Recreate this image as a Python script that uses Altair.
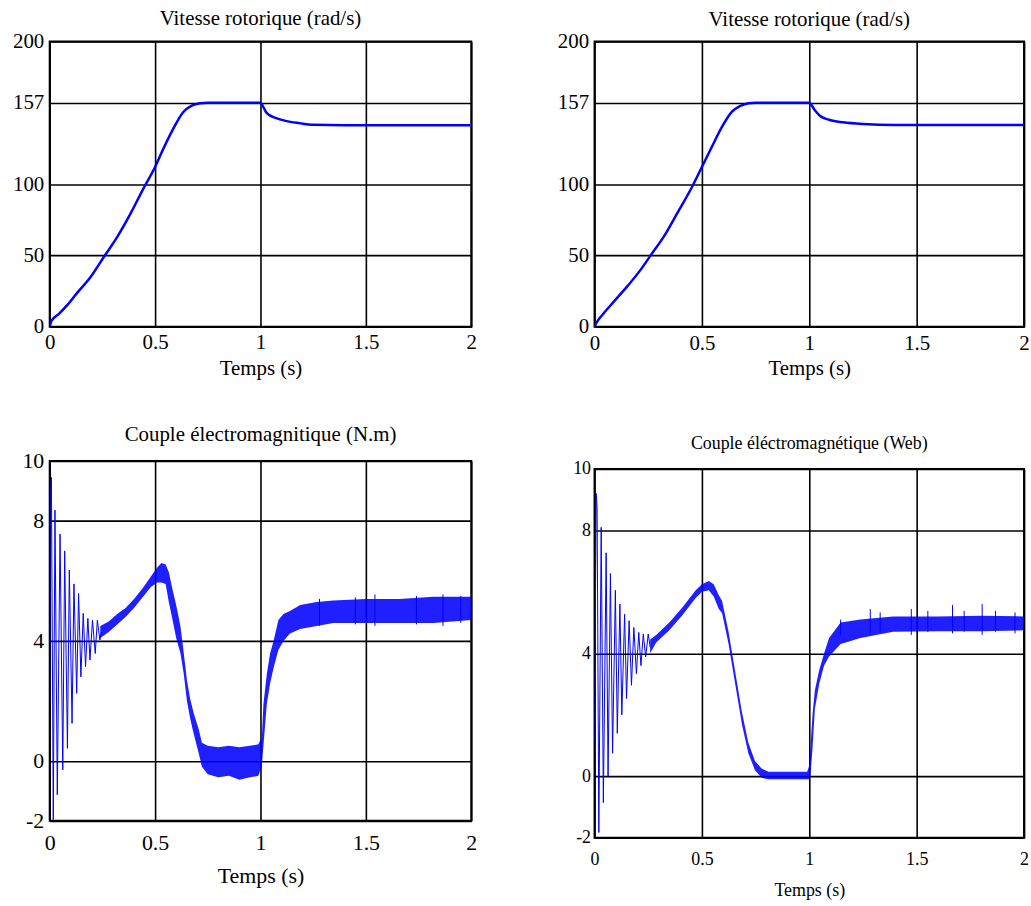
import altair as alt
import pandas as pd

BLUE = "#0000ff"
FONT = "Liberation Serif"

X_TICKS = [0, 0.5, 1, 1.5, 2]
SPEED_TICKS = [0, 50, 100, 157, 200]
TORQUE_TICKS = [-2, 0, 4, 8, 10]

# ---- Vitesse rotorique, left panel ----
speed1_t = [0, 0.008, 0.044, 0.083, 0.13, 0.194, 0.256, 0.319, 0.382, 0.445, 0.5, 0.54,
            0.587, 0.634, 0.674, 0.713, 0.75, 1.0, 1.015, 1.03, 1.075, 1.12, 1.185, 1.25, 1.4, 2.0]
speed1_v = [0, 4, 9, 15.1, 23.7, 34.8, 48.7, 62.6, 78.9, 97, 112, 125,
            139, 150.5, 155, 156.6, 157, 157, 153.5, 149.7, 146.2, 144.3, 142.7, 141.5, 141.3, 141.3]

# ---- Vitesse rotorique, right panel ----
speed2_t = [0, 0.01, 0.039, 0.093, 0.154, 0.216, 0.262, 0.324, 0.386, 0.447, 0.501, 0.547,
            0.594, 0.64, 0.678, 0.717, 0.75, 1.0, 1.025, 1.049, 1.095, 1.157, 1.249, 1.4, 2.0]
speed2_v = [0, 3, 8.8, 18.1, 28.6, 40.2, 50.2, 63.5, 79.8, 96, 112.3, 126.3,
            140.2, 150.7, 154.7, 156.7, 157, 157, 151.9, 147.9, 144.9, 143.3, 142.1, 141.4, 141.4]

# ---- Couple, left panel: start-up oscillation ----
osc1_t = [0.0, 0.003, 0.008, 0.017, 0.025, 0.036, 0.049, 0.062, 0.071, 0.084, 0.093, 0.106,
          0.115, 0.128, 0.137, 0.148, 0.159, 0.170, 0.181, 0.191, 0.203, 0.216, 0.226, 0.238, 0.245]
osc1_v = [1.9, 8.7, 9.45, -1.96, 8.36, -1.13, 7.56, -0.3, 7.0, 0.42, 6.36, 1.25,
          5.9, 2.25, 5.58, 2.8, 4.92, 3.14, 4.75, 3.36, 4.69, 3.58, 4.69, 4.03, 4.3]
# ---- Couple, left panel: ripple band ----
band1_t = [0.24, 0.28, 0.32, 0.36, 0.40, 0.44, 0.48, 0.51, 0.53, 0.55, 0.565, 0.58, 0.60, 0.62,
           0.636, 0.651, 0.667, 0.683, 0.707, 0.722, 0.75, 0.80, 0.85, 0.90, 0.95, 0.99, 1.0,
           1.006, 1.014, 1.03, 1.046, 1.062, 1.085, 1.109, 1.14, 1.188, 1.267, 1.345, 1.5,
           1.66, 1.82, 2.0]
band1_lo = [4.1, 4.3, 4.55, 4.8, 5.1, 5.45, 5.8, 5.95, 5.95, 5.9, 5.3, 4.8, 4.1, 3.6,
            2.9, 2.0, 1.4, 0.9, 0.25, -0.2, -0.45, -0.55, -0.5, -0.63, -0.55, -0.5, -0.3,
            -0.2, 0.5, 1.9, 2.6, 3.1, 3.7, 4.0, 4.25, 4.4, 4.5, 4.6, 4.6,
            4.6, 4.6, 4.7]
band1_hi = [4.5, 4.65, 4.9, 5.1, 5.4, 5.75, 6.15, 6.45, 6.6, 6.55, 6.3, 5.8, 5.2, 4.5,
            3.6, 2.7, 2.05, 1.6, 1.05, 0.6, 0.5, 0.45, 0.5, 0.45, 0.5, 0.55, 0.7,
            0.7, 1.9, 2.9, 3.6, 4.0, 4.7, 4.9, 5.0, 5.2, 5.3, 5.35, 5.4,
            5.4, 5.47, 5.47]
spike1_t = [1.28, 1.45, 1.543, 1.74, 1.866, 1.95]
spike1_lo = [4.5, 4.55, 4.5, 4.55, 4.5, 4.6]
spike1_hi = [5.4, 5.45, 5.55, 5.5, 5.55, 5.5]

# ---- Couple, right panel: start-up oscillation ----
osc2_t = [0.0, 0.005, 0.008, 0.012, 0.020, 0.031, 0.041, 0.054, 0.063, 0.074, 0.084, 0.097,
          0.106, 0.118, 0.127, 0.140, 0.149, 0.161, 0.172, 0.183, 0.195, 0.206, 0.216, 0.227,
          0.238, 0.250, 0.259]
osc2_v = [1.08, 6.5, 9.2, 8.7, -1.83, 8.1, -0.86, 7.27, 0.0, 6.6, 0.75, 6.05,
          1.4, 5.6, 2.0, 5.27, 2.53, 5.06, 2.96, 4.84, 3.34, 4.68, 3.6, 4.63,
          3.88, 4.63, 4.2]
# ---- Couple, right panel: ripple band ----
band2_t = [0.259, 0.287, 0.348, 0.41, 0.471, 0.50, 0.532, 0.555, 0.578, 0.594, 0.624, 0.655,
           0.686, 0.716, 0.747, 0.778, 0.81, 0.90, 0.99, 1.0, 1.005, 1.015, 1.026, 1.046,
           1.069, 1.092, 1.146, 1.238, 1.39, 1.6, 1.8, 2.0]
band2_lo = [4.0, 4.35, 4.75, 5.25, 5.8, 6.0, 6.05, 5.85, 5.45, 5.3, 4.3, 3.0,
            1.7, 0.75, 0.2, -0.05, -0.1, -0.1, -0.1, -0.1, 0.0, 0.9, 2.2, 3.0,
            3.6, 3.9, 4.3, 4.5, 4.7, 4.72, 4.72, 4.75]
band2_hi = [4.45, 4.6, 5.0, 5.5, 6.05, 6.25, 6.35, 6.25, 5.9, 5.7, 4.7, 3.4,
            2.1, 1.1, 0.5, 0.25, 0.15, 0.15, 0.15, 0.35, 0.9, 2.0, 2.8, 3.45,
            4.0, 4.5, 5.0, 5.1, 5.2, 5.2, 5.22, 5.2]
spike2_t = [1.146, 1.284, 1.33, 1.475, 1.552, 1.667, 1.721, 1.805, 1.867, 1.958]
spike2_lo = [4.6, 4.65, 4.7, 4.6, 4.7, 4.65, 4.7, 4.6, 4.7, 4.65]
spike2_hi = [5.1, 5.44, 5.33, 5.44, 5.38, 5.57, 5.38, 5.6, 5.38, 5.33]


def x_enc(fs, lp, tp):
    return alt.X("t:Q", scale=alt.Scale(domain=[0, 2], nice=False),
                 axis=alt.Axis(values=X_TICKS, title="Temps (s)", labelExpr="'' + datum.value",
                               labelFont=FONT, titleFont=FONT, titleFontWeight="normal",
                               labelFontSize=fs, titleFontSize=fs, labelPadding=lp,
                               titlePadding=tp, labelFlush=False, labelOverlap=False))


def y_enc(field, domain, ticks, fs, lp):
    return alt.Y(field, scale=alt.Scale(domain=domain, nice=False, zero=False),
                 axis=alt.Axis(values=ticks, title=None, labelExpr="'' + datum.value",
                               labelFont=FONT, labelFontSize=fs, labelPadding=lp,
                               labelFlush=False, labelOverlap=False))


def title(text, fs, off):
    return alt.TitleParams(text=text, fontSize=fs, font=FONT, fontWeight="normal",
                           color="black", offset=off)


def speed_panel(ts, vs, ttl, w, h, fs, lpx, tpx, lpy, toff):
    df = pd.DataFrame({"t": ts, "v": vs})
    return alt.Chart(df).mark_line(color=BLUE, strokeWidth=2.5, interpolate="monotone",
                                   clip=True).encode(
        x=x_enc(fs, lpx, tpx),
        y=y_enc("v:Q", [0, 200], SPEED_TICKS, fs, lpy),
    ).properties(width=w, height=h, title=title(ttl, fs, toff))


def torque_panel(ot, ov, bt, blo, bhi, st, slo, shi, ttl, w, h, fs, tfs, lpx, tpx, lpy, toff):
    dom = [-2, 10]
    osc = alt.Chart(pd.DataFrame({"t": ot, "v": ov})).mark_line(
        color=BLUE, strokeWidth=1, clip=True).encode(
        x=x_enc(fs, lpx, tpx), y=y_enc("v:Q", dom, TORQUE_TICKS, fs, lpy))
    band = alt.Chart(pd.DataFrame({"t": bt, "lo": blo, "hi": bhi})).mark_area(
        color=BLUE, opacity=0.88, clip=True).encode(
        x=x_enc(fs, lpx, tpx), y=y_enc("lo:Q", dom, TORQUE_TICKS, fs, lpy), y2="hi:Q")
    spikes = alt.Chart(pd.DataFrame({"t": st, "lo": slo, "hi": shi})).mark_rule(
        color=BLUE, strokeWidth=1, clip=True).encode(
        x=x_enc(fs, lpx, tpx), y=y_enc("lo:Q", dom, TORQUE_TICKS, fs, lpy), y2="hi:Q")
    return alt.layer(osc, band, spikes).properties(
        width=w, height=h, title=title(ttl, tfs, toff))


tl = speed_panel(speed1_t, speed1_v, "Vitesse rotorique (rad/s)", 424, 287, 21, 5, 5, 6, 1)
tr = speed_panel(speed2_t, speed2_v, "Vitesse rotorique (rad/s)", 432, 287, 21, 6, 4, 6, 0)
bl = torque_panel(osc1_t, osc1_v, band1_t, band1_lo, band1_hi, spike1_t, spike1_lo, spike1_hi,
                  "Couple électromagnitique (N.m)", 424, 362, 22, 21, 12, 12, 6, 5)
br = torque_panel(osc2_t, osc2_v, band2_t, band2_lo, band2_hi, spike2_t, spike2_lo, spike2_hi,
                  "Couple éléctromagnétique (Web)", 432, 371, 18, 18, 13, 13, 4, 7)

left = alt.vconcat(tl, bl, spacing=44)
right = alt.vconcat(tr, br, spacing=55)

chart = alt.hconcat(left, right, spacing=78).properties(
    padding={"left": 11, "top": 5, "right": 0, "bottom": 0}
).configure_axis(
    grid=True, gridColor="black", gridOpacity=1, gridWidth=1.6,
    domain=False, ticks=False, labelColor="black", titleColor="black",
    labelFont=FONT, titleFont=FONT, titleFontWeight="normal",
).configure_view(stroke="black", strokeWidth=2).configure_title(font=FONT)

chart.save("out.html", embed_options={"renderer": "svg", "actions": False})
